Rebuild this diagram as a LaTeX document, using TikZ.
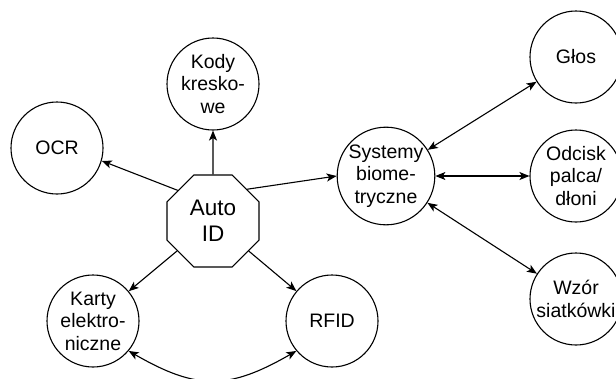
\documentclass[tikz,border=0pt]{standalone}
\usepackage{fontspec}
\setmainfont{Liberation Sans}
\usetikzlibrary{shapes.geometric,arrows.meta}
\begin{document}
\begin{tikzpicture}[x=1pt, y=1pt,
  item/.style={draw, circle, line width=1.1pt, minimum size=92pt, inner sep=0pt,
    align=center, font=\fontsize{19.5}{22.5}\selectfont},
  hub/.style={draw, regular polygon, regular polygon sides=8, minimum size=99.6pt,
    inner sep=0pt, line width=1.1pt, align=center, font=\fontsize{22.5}{26.5}\selectfont},
  arr/.style={-{Stealth[length=10pt, width=8pt, inset=2.5pt]}, line width=1.1pt},
  both/.style={{Stealth[length=10pt, width=8pt, inset=2.5pt]}-{Stealth[length=10pt, width=8pt, inset=2.5pt]}, line width=1.1pt}]

  \useasboundingbox (0,0) rectangle (616,-378);

  \node[hub] (auto) at (213,-221) {Auto\\ID};

  \node[item] (kody) at (213,-84) {Kody\\kresko-\\we};
  \node[item] (ocr) at (57,-148) {OCR};
  \node[item] (karty) at (93,-321) {Karty\\elektro-\\niczne};
  \node[item] (rfid) at (332,-321) {RFID};

  \node[item] (sys) at (386,-176) {Systemy\\biome-\\tryczne};
  \node[item] (glos) at (576,-57) {Głos};
  \node[item] (odcisk) at (576,-176) {Odcisk\\palca/\\dłoni};
  \node[item] (wzor) at (576,-299) {Wzór\\siatkówki};

  \draw[arr] (auto) -- (kody);
  \draw[arr] (auto.139) -- (ocr.-16);
  \draw[arr] (auto) -- (karty);
  \draw[arr] (auto) -- (rfid);
  \draw[arr] (auto.43) -- (sys.180);

  \draw[both] (karty.-40) to[out=-30, in=-150, looseness=1.2] (rfid.-140);

  \draw[both] (sys) -- (glos);
  \draw[both] (sys) -- (odcisk);
  \draw[both] (sys) -- (wzor);

\end{tikzpicture}
\end{document}
